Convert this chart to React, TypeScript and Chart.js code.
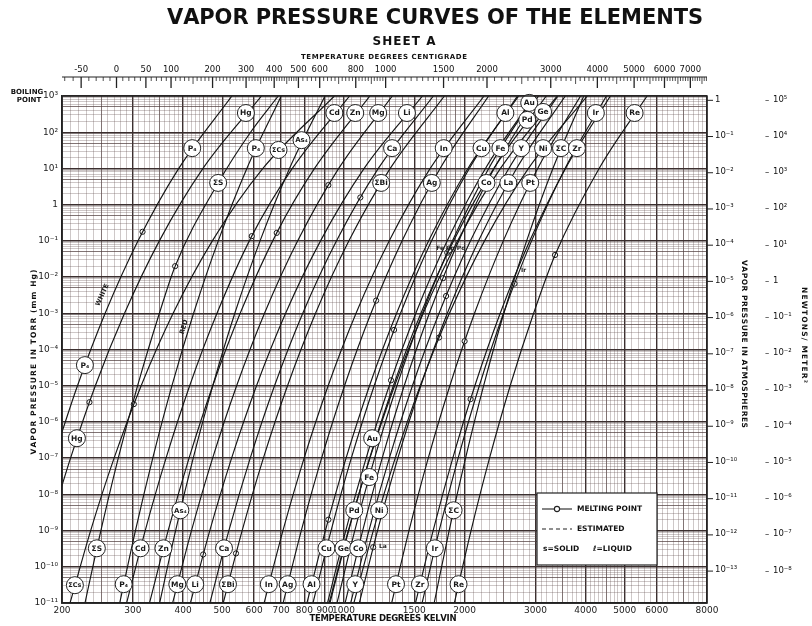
import React, { useEffect, useRef } from "react";
import { Chart, registerables } from "chart.js";

Chart.register(...registerables);

// ---- vapour-pressure curves: [temperature K, pressure torr] ----
const HG = [[185, 1e-9], [210, 1e-7], [242, 1e-5], [286, 1e-3], [349, 1e-1], [448, 1e1], [626, 1e3]];
const P_WHITE = [[190.5, 1e-7], [218.5, 1e-5], [256, 1e-3], [309, 1e-1], [390, 1e1], [528.5, 1e3]];
const CS = [[209.4, 1e-11], [235.6, 1e-9], [269.4, 1e-7], [314.5, 1e-5], [377.6, 1e-3], [472.6, 1e-1], [631, 1e1], [949.7, 1e3]];
const S = [[228.1, 1e-11], [244.1, 3.24e-10], [275.9, 1e-7], [308.2, 1e-5], [349.1, 1e-3], [382, 2e-2], [488.5, 3.98], [588, 1e2], [689, 1e3]];
const P_RED = [[278.2, 1e-11], [304.4, 1e-9], [336.1, 1e-7], [375.1, 1e-5], [424.5, 1e-3], [488.8, 1e-1], [575.7, 1e1], [700.8, 1e3]];
const CD = [[289.4, 1e-11], [321.9, 1e-9], [362.6, 1e-7], [415.1, 1e-5], [485.3, 1e-3], [592, 0.135], [746.7, 1e1], [1036, 1e3]];
const ZN = [[329.9, 1e-11], [367, 1e-9], [413.6, 1e-7], [473.6, 1e-5], [554.1, 1e-3], [682.9, 0.166], [847.8, 1e1], [1163.6, 1e3]];
const AS = [[349.6, 1e-11], [383, 1e-9], [423.6, 1e-7], [473.8, 1e-5], [537.4, 1e-3], [620.8, 1e-1], [734.8, 1e1], [900, 1e3]];
const MG = [[376.5, 1e-11], [419.4, 1e-9], [473.3, 1e-7], [543, 1e-5], [636.9, 1e-3], [770, 1e-1], [973.5, 1e1], [1323, 1e3]];
const LI = [[416.8, 1e-11], [465.7, 1e-9], [527.6, 1e-7], [608.4, 1e-5], [718.5, 1e-3], [877.3, 1e-1], [1126, 1e1], [1572, 1e3]];
const CA = [[465.9, 1e-11], [519.4, 1e-9], [586.9, 1e-7], [674.4, 1e-5], [792.7, 1e-3], [961.4, 1e-1], [1221, 1e1], [1673, 1e3]];
const BI = [[502.9, 1e-11], [560.4, 1e-9], [632.7, 1e-7], [726.4, 1e-5], [852.7, 1e-3], [1032, 1e-1], [1307, 1e1], [1782, 1e3]];
const IN = [[635.4, 1e-11], [707.7, 1e-9], [798.7, 1e-7], [916.4, 1e-5], [1075, 1e-3], [1300, 1e-1], [1643, 1e1], [2235, 1e3]];
const AG = [[708.4, 1e-11], [786, 1e-9], [882.7, 1e-7], [1006.5, 1e-5], [1170.8, 1e-3], [1399, 1e-1], [1738.5, 1e1], [2295, 1e3]];
const AL = [[811.7, 1e-11], [902.1, 1e-9], [1015.3, 1e-7], [1161, 1e-5], [1355.6, 1e-3], [1628.4, 1e-1], [2038, 1e1], [2725, 1e3]];
const CU = [[840.1, 1e-11], [931.9, 1e-9], [1046.2, 1e-7], [1192.6, 1e-5], [1386.4, 1e-3], [1655.6, 1e-1], [2054.7, 1e1], [2706, 1e3]];
const AU = [[913, 1e-11], [1013.6, 1e-9], [1138.8, 1e-7], [1299.5, 1e-5], [1513, 1e-3], [1810.6, 1e-1], [2253, 1e1], [2983, 1e3]];
const FE = [[964, 1e-11], [1067.2, 1e-9], [1195.2, 1e-7], [1358, 1e-5], [1571.8, 1e-3], [1866, 1e-1], [2295.7, 1e1], [2982, 1e3]];
const PD = [[925.9, 1e-11], [1030.4, 1e-9], [1161.6, 1e-7], [1330.9, 1e-5], [1557.9, 1e-3], [1878.3, 1e-1], [2364.6, 1e1], [3190.8, 1e3]];
const NI = [[1061.7, 1e-11], [1186.5, 1e-9], [1344.8, 1e-7], [1551.8, 1e-5], [1833.9, 1e-3], [2241.6, 1e-1], [2881.8, 1e1], [4035, 1e3]];
const GE = [[921.4, 1e-11], [1028.5, 1e-9], [1163.7, 1e-7], [1340, 1e-5], [1579, 1e-3], [1922, 1e-1], [2455, 1e1], [3397, 1e3]];
const CO = [[1009.8, 1e-11], [1116.6, 1e-9], [1248.4, 1e-7], [1415.8, 1e-5], [1634.8, 1e-3], [1934.2, 1e-1], [2367.4, 1e1], [3051.6, 1e3]];
const LA = [[1095.3, 1e-11], [1215.5, 1e-9], [1365.2, 1e-7], [1557.1, 1e-5], [1811.9, 1e-3], [2166.4, 1e-1], [2692.5, 1e1], [3557.5, 1e3]];
const YT = [[1042.4, 1e-11], [1157.1, 1e-9], [1300.4, 1e-7], [1484.1, 1e-5], [1728, 1e-3], [2068.3, 1e-1], [2575.3, 1e1], [3410.6, 1e3]];
const PT = [[1317.9, 1e-11], [1455.2, 1e-9], [1624.4, 1e-7], [1838.2, 1e-5], [2116.8, 1e-3], [2495, 1e-1], [3037.7, 1e1], [3882, 1e3]];
const ZR = [[1510.3, 1e-11], [1670.6, 1e-9], [1869.2, 1e-7], [2120.9, 1e-5], [2451.6, 1e-3], [2903.6, 1e-1], [3561.3, 1e1], [4604, 1e3]];
const IR = [[1568.4, 1e-11], [1729.2, 1e-9], [1927.2, 1e-7], [2175.8, 1e-5], [2498.8, 1e-3], [2933.4, 1e-1], [3552.4, 1e1], [4500.5, 1e3]];
const CARBON = [[1680.4, 1e-11], [1830.8, 1e-9], [2010.9, 1e-7], [2230.2, 1e-5], [2503.1, 1e-3], [2851.5, 1e-1], [3313.4, 1e1], [3954, 1e3]];
const RE = [[1886.1, 1e-11], [2075.1, 1e-9], [2306.3, 1e-7], [2595.7, 1e-5], [2967.8, 1e-3], [3355, 0.0407], [4316.7, 1e1], [5679, 1e3]];

const SERIES_NAMES = ["Hg", "P4 white", "Cs", "S", "P4 red", "Cd", "Zn", "As4", "Mg", "Li", "Ca", "Bi", "In", "Ag", "Al", "Cu", "Au", "Fe", "Pd", "Ni", "Ge", "Co", "La", "Y", "Pt", "Zr", "Ir", "C", "Re"];
const SERIES_DATA = [HG, P_WHITE, CS, S, P_RED, CD, ZN, AS, MG, LI, CA, BI, IN, AG, AL, CU, AU, FE, PD, NI, GE, CO, LA, YT, PT, ZR, IR, CARBON, RE];

// melting points (K, torr)
const MP_T = [317, 234, 301.6, 382, 592, 682.9, 917.6, 1101.6, 448.4, 541, 917.6, 1205.6, 1313, 1336, 2000, 2069.5, 2661, 3355, 1185.6, 1811, 1828, 1768, 1728, 1799];
const MP_P = [0.178, 3.5e-6, 3.1e-6, 0.02, 0.135, 0.166, 3.47, 1.58, 2.19e-10, 2.34e-10, 2.0e-9, 2.24e-3, 1.41e-5, 3.47e-4, 1.7e-4, 4.27e-6, 6.6e-3, 0.0407, 3.47e-10, 0.047, 0.054, 9.3e-3, 2.14e-4, 3.0e-3];

// circled element labels (K, torr)
const LABEL_TEXT = [
  "Hg", "Cd", "Zn", "Mg", "Li", "Al", "Ir", "Re", "Au", "Pd", "Ge",
  "P₄", "P₄", "ΣCs", "As₄", "Ca", "In", "Cu", "Fe", "Y", "Ni", "ΣC", "Zr",
  "ΣS", "ΣBi", "Ag", "Co", "La", "Pt",
  "P₄", "Hg", "Au", "Fe", "Pd", "Ni", "As₄", "ΣC",
  "ΣS", "Cd", "Zn", "Ca", "Cu", "Ge", "Co", "Ir",
  "ΣCs", "P₄", "Mg", "Li", "ΣBi", "In", "Ag", "Al", "Y", "Pt", "Zr", "Re",
];
const LABEL_T = [
  572.6, 949.6, 1070, 1220, 1438, 2525, 4236, 5287, 2894, 2861, 3133,
  421.2, 606, 690, 787, 1321, 1775, 2203, 2454, 2765, 3133, 3471, 3802,
  488.5, 1241, 1658, 2266, 2568, 2911,
  228, 217.8, 1179, 1159, 1064, 1227, 393.6, 1878,
  244.1, 313.3, 357.2, 505.2, 907.6, 1000, 1088.4, 1687,
  215.3, 284.6, 386.8, 428.5, 516.7, 652.7, 727, 833.4, 1070, 1351, 1549, 1932,
];
const LABEL_P = [
  339, 339, 339, 339, 339, 339, 339, 339, 646, 219, 363,
  36.3, 36.3, 32.4, 60.3, 36.3, 36.3, 36.3, 36.3, 36.3, 36.3, 36.3, 36.3,
  3.98, 3.98, 3.98, 3.98, 3.98, 3.98,
  3.7e-5, 3.55e-7, 3.55e-7, 3.0e-8, 3.63e-9, 3.63e-9, 3.63e-9, 3.63e-9,
  3.24e-10, 3.24e-10, 3.24e-10, 3.24e-10, 3.24e-10, 3.24e-10, 3.24e-10, 3.24e-10,
  3.1e-11, 3.31e-11, 3.31e-11, 3.31e-11, 3.31e-11, 3.31e-11, 3.31e-11, 3.31e-11, 3.31e-11, 3.31e-11, 3.31e-11, 3.31e-11,
];

// small notes
const NOTE_TEXT = ["Fe Co Pd", "Ir", "La"];
const NOTE_T = [1700, 2760, 1225];
const NOTE_P = [0.06, 0.0155, 3.6e-10];

// tick labels
const KELVIN_LABELS = [200, 300, 400, 500, 600, 700, 800, 900, 1000, 1500, 2000, 3000, 4000, 5000, 6000, 8000];
const CELSIUS_LABELS = [-50, 0, 50, 100, 200, 300, 400, 500, 600, 800, 1000, 1500, 2000, 3000, 4000, 5000, 6000, 7000];
const TORR_EXP = [3, 2, 1, 0, -1, -2, -3, -4, -5, -6, -7, -8, -9, -10, -11];
const ATM_EXP = [0, -1, -2, -3, -4, -5, -6, -7, -8, -9, -10, -11, -12, -13];
const NEWTON_EXP = [5, 4, 3, 2, 1, 0, -1, -2, -3, -4, -5, -6, -7, -8];

const FONT = '"DejaVu Sans", "Liberation Sans", sans-serif';
const SUP: Record<string, string> = { "0": "⁰", "1": "¹", "2": "²", "3": "³", "4": "⁴", "5": "⁵", "6": "⁶", "7": "⁷", "8": "⁸", "9": "⁹", "-": "⁻" };
const pow10 = (e: number) => (e === 0 ? "1" : "10" + String(e).split("").map((c) => SUP[c]).join(""));

function xGrid() {
  const v: number[] = [];
  for (let t = 200; t < 500; t += 10) v.push(t);
  for (let t = 500; t < 1000; t += 20) v.push(t);
  for (let t = 1000; t < 2000; t += 50) v.push(t);
  for (let t = 2000; t < 5000; t += 100) v.push(t);
  for (let t = 5000; t <= 8000; t += 200) v.push(t);
  return v;
}
function yGrid() {
  const v: number[] = [];
  for (let e = -11; e <= 2; e++) for (let m = 1; m <= 9; m++) v.push(Number((m * Math.pow(10, e)).toPrecision(3)));
  v.push(1000);
  return v;
}
function xLevel(v: number) {
  if (KELVIN_LABELS.includes(v)) return 2;
  if (v < 1000 && v % 50 === 0) return 1;
  if (v >= 1000 && v < 2000 && v % 100 === 0) return 1;
  if (v >= 2000 && v % 500 === 0) return 1;
  return 0;
}
function yLevel(v: number) {
  const e = Math.floor(Math.log10(v) + 1e-9);
  const m = Math.round(v / Math.pow(10, e));
  if (m === 1) return 2;
  if (m === 5) return 1;
  return 0;
}
const GRID_COLOR = ["rgba(105,85,85,0.55)", "rgba(80,62,62,0.8)", "#3b2f2f"];
const GRID_WIDTH = [0.6, 0.9, 1.4];

function spaced(ctx: CanvasRenderingContext2D, text: string, cx: number, cy: number, width: number) {
  const chars = Array.from(text);
  const w = chars.map((c) => ctx.measureText(c).width);
  const total = w.reduce((a, b) => a + b, 0);
  const gap = chars.length > 1 ? (width - total) / (chars.length - 1) : 0;
  let x = cx - width / 2;
  ctx.textAlign = "left";
  chars.forEach((c, i) => {
    ctx.fillText(c, x, cy);
    x += w[i] + gap;
  });
}

const decor = {
  id: "decor",
  afterDatasetsDraw(chart: any) {
    const { ctx, scales } = chart;
    const xs = scales.x;
    const ys = scales.y;
    ctx.save();
    // notes
    ctx.fillStyle = "#222";
    ctx.font = `bold 6px ${FONT}`;
    ctx.textBaseline = "middle";
    ctx.textAlign = "left";
    NOTE_TEXT.forEach((t, i) => ctx.fillText(t, xs.getPixelForValue(NOTE_T[i]), ys.getPixelForValue(NOTE_P[i])));
    // WHITE / RED notes along the phosphorus curves
    const rot = (t: string, T: number, P: number, ang: number) => {
      ctx.save();
      ctx.translate(xs.getPixelForValue(T), ys.getPixelForValue(P));
      ctx.rotate(ang);
      ctx.font = `bold 6.5px ${FONT}`;
      ctx.textAlign = "center";
      ctx.fillText(t, 0, 0);
      ctx.restore();
    };
    rot("WHITE", 252, 3.2e-3, (-65 * Math.PI) / 180);
    rot("RED", 402, 4.2e-4, (-73 * Math.PI) / 180);
    // circled labels
    LABEL_TEXT.forEach((t, i) => {
      const px = xs.getPixelForValue(LABEL_T[i]);
      const py = ys.getPixelForValue(LABEL_P[i]);
      ctx.beginPath();
      ctx.arc(px, py, 8.5, 0, Math.PI * 2);
      ctx.fillStyle = "#fff";
      ctx.fill();
      ctx.lineWidth = 1;
      ctx.strokeStyle = "#222";
      ctx.stroke();
      let size = 7.5;
      ctx.font = `bold ${size}px ${FONT}`;
      while (ctx.measureText(t).width > 13.5 && size > 5) {
        size -= 0.5;
        ctx.font = `bold ${size}px ${FONT}`;
      }
      ctx.fillStyle = "#1a1a1a";
      ctx.textAlign = "center";
      ctx.textBaseline = "middle";
      ctx.fillText(t, px, py + 0.5);
    });
    ctx.restore();
  },
  afterDraw(chart: any) {
    const { ctx, chartArea: a, scales } = chart;
    const xs = scales.x;
    const ys = scales.y;
    ctx.save();
    ctx.strokeStyle = "#222";
    ctx.lineWidth = 1.5;
    ctx.strokeRect(a.left, a.top, a.right - a.left, a.bottom - a.top);

    // titles
    ctx.fillStyle = "#111";
    ctx.textBaseline = "middle";
    ctx.font = `bold 21px ${FONT}`;
    spaced(ctx, "VAPOR PRESSURE CURVES OF THE ELEMENTS", 435, 19, 536);
    ctx.font = `bold 12px ${FONT}`;
    spaced(ctx, "SHEET A", 404, 42, 63);
    ctx.font = `bold 7px ${FONT}`;
    spaced(ctx, "TEMPERATURE DEGREES CENTIGRADE", 384, 57, 166);
    ctx.font = `bold 8.5px ${FONT}`;
    spaced(ctx, "TEMPERATURE DEGREES KELVIN", 383, 619, 147);

    // top centigrade ruler
    const rulerY = 77;
    ctx.lineWidth = 1.2;
    ctx.beginPath();
    ctx.moveTo(a.left, rulerY);
    ctx.lineTo(a.right, rulerY);
    ctx.stroke();
    const cMarks: number[] = [];
    for (let c = -70; c < 500; c += 10) cMarks.push(c);
    for (let c = 500; c < 1000; c += 20) cMarks.push(c);
    for (let c = 1000; c < 2000; c += 50) cMarks.push(c);
    for (let c = 2000; c < 7750; c += 100) cMarks.push(c);
    ctx.lineWidth = 0.9;
    cMarks.forEach((c) => {
      const x = xs.getPixelForValue(c + 273.15);
      if (x < a.left - 0.5 || x > a.right + 0.5) return;
      const major = CELSIUS_LABELS.includes(c);
      const mid = !major && ((c < 1000 && c % 50 === 0) || (c >= 1000 && c % 500 === 0));
      const len = major ? 11 : mid ? 7 : 4;
      ctx.lineWidth = major ? 1.3 : 0.8;
      ctx.beginPath();
      ctx.moveTo(x, rulerY);
      ctx.lineTo(x, rulerY + len);
      ctx.stroke();
    });
    ctx.font = `8.5px ${FONT}`;
    ctx.textAlign = "center";
    CELSIUS_LABELS.forEach((c) => {
      ctx.fillText(String(c), xs.getPixelForValue(c + 273.15), 70);
    });

    // left side
    ctx.font = `bold 7px ${FONT}`;
    ctx.textAlign = "center";
    ctx.fillText("BOILING", 27, 92);
    ctx.fillText("POINT", 29, 100);
    ctx.save();
    ctx.translate(34, 362);
    ctx.rotate(-Math.PI / 2);
    ctx.font = `bold 7.5px ${FONT}`;
    spaced(ctx, "VAPOR PRESSURE IN TORR (mm Hg)", 0, 0, 185);
    ctx.restore();

    // right: atmospheres
    ctx.font = `8.5px ${FONT}`;
    ctx.textAlign = "left";
    ctx.lineWidth = 1;
    ATM_EXP.forEach((e) => {
      const y = ys.getPixelForValue(760 * Math.pow(10, e));
      ctx.beginPath();
      ctx.moveTo(a.right, y);
      ctx.lineTo(a.right + 6, y);
      ctx.stroke();
      ctx.fillText(pow10(e), a.right + 8, y - 1);
    });
    // right: newtons / m^2
    NEWTON_EXP.forEach((e) => {
      const y = ys.getPixelForValue(0.0075006 * Math.pow(10, e));
      ctx.fillText("–", 765, y);
      ctx.fillText(pow10(e), 773, y - 1);
    });
    ctx.save();
    ctx.translate(744, 344);
    ctx.rotate(Math.PI / 2);
    ctx.font = `bold 7.5px ${FONT}`;
    spaced(ctx, "VAPOR PRESSURE IN ATMOSPHERES", 0, 0, 168);
    ctx.restore();
    ctx.save();
    ctx.translate(804, 335);
    ctx.rotate(Math.PI / 2);
    ctx.font = `bold 7.5px ${FONT}`;
    spaced(ctx, "NEWTONS/ METER²", 0, 0, 96);
    ctx.restore();

    // legend box
    const bx = 537, by = 493, bw = 120, bh = 72;
    ctx.fillStyle = "#fff";
    ctx.fillRect(bx, by, bw, bh);
    ctx.strokeStyle = "#222";
    ctx.lineWidth = 1.2;
    ctx.strokeRect(bx, by, bw, bh);
    ctx.fillStyle = "#111";
    ctx.lineWidth = 1.1;
    ctx.beginPath();
    ctx.moveTo(542, 509);
    ctx.lineTo(572, 509);
    ctx.stroke();
    ctx.beginPath();
    ctx.arc(557, 509, 2.6, 0, Math.PI * 2);
    ctx.fillStyle = "#fff";
    ctx.fill();
    ctx.stroke();
    ctx.setLineDash([4, 3]);
    ctx.beginPath();
    ctx.moveTo(542, 529);
    ctx.lineTo(572, 529);
    ctx.stroke();
    ctx.setLineDash([]);
    ctx.fillStyle = "#111";
    ctx.font = `bold 7.5px ${FONT}`;
    ctx.textAlign = "left";
    ctx.fillText("MELTING POINT", 577, 509);
    ctx.fillText("ESTIMATED", 577, 529);
    ctx.fillText("s=SOLID", 543, 549);
    ctx.fillText("ℓ=LIQUID", 593, 549);
    ctx.restore();
  },
};

export default function App() {
  const ref = useRef<HTMLCanvasElement>(null);
  useEffect(() => {
    const canvas = ref.current;
    if (!canvas) return;
    const xg = xGrid();
    const yg = yGrid();
    const datasets: any[] = SERIES_DATA.map((pts, i) => ({
      type: "line",
      label: SERIES_NAMES[i],
      data: pts.map(([x, y]) => ({ x, y })),
      borderColor: "#151515",
      borderWidth: 1.15,
      pointRadius: 0,
      cubicInterpolationMode: "monotone",
      fill: false,
      clip: 0,
    }));
    datasets.push({
      type: "scatter",
      label: "melting point",
      data: MP_T.map((t, i) => ({ x: t, y: MP_P[i] })),
      pointRadius: 2.6,
      pointBackgroundColor: "#fff",
      pointBorderColor: "#151515",
      pointBorderWidth: 1,
      showLine: false,
      clip: 0,
    });
    const chart = new Chart(canvas, {
      type: "line",
      data: { datasets },
      options: {
        animation: false,
        responsive: false,
        devicePixelRatio: 1,
        events: [],
        layout: { padding: { top: 96, right: 105, left: 0, bottom: 0 } },
        plugins: { legend: { display: false }, tooltip: { enabled: false }, title: { display: false } },
        scales: {
          x: {
            type: "logarithmic",
            position: "bottom",
            min: 200,
            max: 8000,
            afterBuildTicks: (s: any) => {
              s.ticks = xg.map((v) => ({ value: v }));
            },
            afterFit: (s: any) => {
              s.height = 23;
            },
            ticks: {
              autoSkip: false,
              maxRotation: 0,
              minRotation: 0,
              padding: 2,
              color: "#222",
              font: { family: FONT, size: 9 },
              callback: (v: any) => (KELVIN_LABELS.includes(Number(v)) ? String(v) : ""),
            },
            grid: {
              drawTicks: false,
              color: (c: any) => GRID_COLOR[xLevel(c.tick ? c.tick.value : 0)],
              lineWidth: (c: any) => GRID_WIDTH[xLevel(c.tick ? c.tick.value : 0)],
            },
            border: { display: true, color: "#222", width: 1.5 },
          },
          y: {
            type: "logarithmic",
            position: "left",
            min: 1e-11,
            max: 1e3,
            afterBuildTicks: (s: any) => {
              s.ticks = yg.map((v) => ({ value: v }));
            },
            afterFit: (s: any) => {
              s.width = 62;
            },
            ticks: {
              autoSkip: false,
              padding: 4,
              color: "#222",
              font: { family: FONT, size: 9 },
              callback: (v: any) => {
                const val = Number(v);
                const e = Math.round(Math.log10(val));
                if (Math.abs(val / Math.pow(10, e) - 1) < 1e-6 && TORR_EXP.includes(e)) return pow10(e);
                return "";
              },
            },
            grid: {
              drawTicks: false,
              color: (c: any) => GRID_COLOR[yLevel(c.tick ? c.tick.value : 1)],
              lineWidth: (c: any) => GRID_WIDTH[yLevel(c.tick ? c.tick.value : 1)],
            },
            border: { display: true, color: "#222", width: 1.5 },
          },
        },
      },
      plugins: [decor],
    } as any);
    return () => chart.destroy();
  }, []);
  return (
    <div style={{ position: "absolute", left: 0, top: 0, width: 812, height: 626, background: "#fff" }}>
      <canvas ref={ref} width={812} height={626} style={{ display: "block", width: 812, height: 626 }} />
    </div>
  );
}
